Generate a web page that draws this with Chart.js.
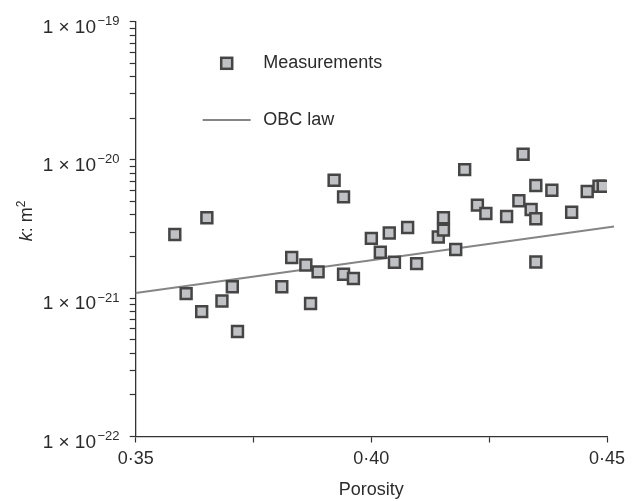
<!DOCTYPE html>
<html>
<head>
<meta charset="utf-8">
<title>Permeability vs porosity</title>
<script src="https://cdn.jsdelivr.net/npm/chart.js@4.4.1/dist/chart.umd.min.js"></script>
<style>
  html, body { margin: 0; padding: 0; background: #fff; }
  #wrap { width: 638px; height: 501px; }
</style>
</head>
<body>
<div id="wrap"><canvas id="permChart" width="638" height="501"></canvas></div>
<script>
// Measured porosity / permeability pairs (k in m²)
const porosity = [
  0.3583, 0.3607, 0.3640, 0.3651, 0.3683, 0.3705, 0.3716, 0.3810, 0.3831, 0.3861,
  0.3871, 0.3887, 0.3921, 0.3941, 0.3941, 0.3962, 0.4000, 0.4019, 0.4038, 0.4049,
  0.4077, 0.4096, 0.4142, 0.4153, 0.4153, 0.4179, 0.4198, 0.4225, 0.4243, 0.4287,
  0.4313, 0.4322, 0.4339, 0.4349, 0.4349, 0.4349, 0.4383, 0.4425, 0.4458, 0.4483,
  0.4492
];
const permeability = [
  2.89e-21, 1.08e-21, 8.0e-22, 3.82e-21, 9.56e-22, 1.21e-21, 5.75e-22, 1.21e-21, 1.97e-21, 1.74e-21,
  9.16e-22, 1.55e-21, 7.13e-21, 5.41e-21, 1.49e-21, 1.39e-21, 2.71e-21, 2.15e-21, 2.96e-21, 1.82e-21,
  3.25e-21, 1.78e-21, 2.77e-21, 3.82e-21, 3.11e-21, 2.25e-21, 8.52e-21, 4.71e-21, 4.10e-21, 3.90e-21,
  5.07e-21, 1.10e-20, 4.38e-21, 3.76e-21, 6.53e-21, 1.83e-21, 6.04e-21, 4.19e-21, 5.91e-21, 6.45e-21,
  6.45e-21
];

// OBC law curve (straight on the log axis)
const obcPorosity = [0.35, 0.4515];
const obcPermeability = [1.09e-21, 3.30e-21];

// Axis ticks
const xTickValues = [0.35, 0.375, 0.40, 0.425, 0.45];
const xTickLabels = ['0·35', '', '0·40', '', '0·45'];
const yDecades = [-22, -21, -20, -19];
const yMinorSteps = [1, 2, 3, 4, 5, 6, 7, 8, 9];

const FONT = "'Liberation Sans', Arial, Helvetica, sans-serif";
const INK = '#2b2b2b';
const AXIS = '#333333';
const MARK_FILL = '#c0c1c4';
const MARK_EDGE = '#454545';
const LINE_GREY = '#858585';

const yTickValues = [];
yDecades.forEach((d, i) => {
  if (i === yDecades.length - 1) {
    yTickValues.push(Math.pow(10, d));
    return;
  }
  yMinorSteps.forEach(m => yTickValues.push(m * Math.pow(10, d)));
});

// y labels as "1 × 10" with a raised exponent, the legend and the y title
const annotations = {
  id: 'annotations',
  afterDraw(chart) {
    const ctx = chart.ctx;
    const yScale = chart.scales.y;
    ctx.save();
    ctx.fillStyle = INK;

    yDecades.forEach(d => {
      const py = yScale.getPixelForValue(Math.pow(10, d));
      ctx.font = `19px ${FONT}`;
      ctx.textAlign = 'right';
      ctx.textBaseline = 'alphabetic';
      ctx.fillText('1 × 10', 96, py + 11);
      ctx.font = `13px ${FONT}`;
      ctx.textAlign = 'left';
      ctx.fillText('−' + Math.abs(d), 97.5, py + 3.5);
    });

    // legend
    const sq = 11;
    ctx.fillStyle = MARK_FILL;
    ctx.strokeStyle = MARK_EDGE;
    ctx.lineWidth = 2.5;
    ctx.fillRect(226.7 - sq / 2, 63.3 - sq / 2, sq, sq);
    ctx.strokeRect(226.7 - sq / 2, 63.3 - sq / 2, sq, sq);

    ctx.strokeStyle = LINE_GREY;
    ctx.lineWidth = 2;
    ctx.beginPath();
    ctx.moveTo(202.7, 120);
    ctx.lineTo(250.7, 120);
    ctx.stroke();

    ctx.fillStyle = INK;
    ctx.font = `18px ${FONT}`;
    ctx.textAlign = 'left';
    ctx.textBaseline = 'middle';
    ctx.fillText('Measurements', 263.3, 63.5);
    ctx.fillText('OBC law', 263.3, 120.5);

    // rotated y title: k: m²
    ctx.translate(31.5, 221);
    ctx.rotate(-Math.PI / 2);
    ctx.textBaseline = 'alphabetic';
    const parts = [
      { t: 'k', f: `italic 18px ${FONT}`, dy: 0 },
      { t: ': m', f: `18px ${FONT}`, dy: 0 },
      { t: '2', f: `12px ${FONT}`, dy: -7 }
    ];
    let total = 0;
    parts.forEach(p => { ctx.font = p.f; p.w = ctx.measureText(p.t).width; total += p.w; });
    let x = -total / 2;
    parts.forEach(p => {
      ctx.font = p.f;
      ctx.fillText(p.t, x, p.dy);
      x += p.w;
    });

    ctx.restore();
  }
};

const ctx = document.getElementById('permChart').getContext('2d');
new Chart(ctx, {
  type: 'scatter',
  data: {
    datasets: [
      {
        label: 'Measurements',
        data: porosity.map((p, i) => ({ x: p, y: permeability[i] })),
        pointStyle: 'rect',
        pointRadius: 7.7,
        pointHoverRadius: 7.7,
        backgroundColor: MARK_FILL,
        borderColor: MARK_EDGE,
        borderWidth: 2.5,
        order: 0
      },
      {
        label: 'OBC law',
        type: 'line',
        data: obcPorosity.map((p, i) => ({ x: p, y: obcPermeability[i] })),
        borderColor: LINE_GREY,
        borderWidth: 2,
        pointRadius: 0,
        fill: false,
        clip: false,
        order: 1
      }
    ]
  },
  options: {
    responsive: false,
    animation: false,
    layout: { padding: { left: 129.7, top: 21.7, right: 31, bottom: 0 } },
    plugins: {
      legend: { display: false },
      tooltip: { enabled: false }
    },
    scales: {
      x: {
        type: 'linear',
        min: 0.35,
        max: 0.45,
        afterBuildTicks: scale => { scale.ticks = xTickValues.map(v => ({ value: v })); },
        ticks: {
          color: INK,
          font: { family: FONT, size: 18 },
          padding: 6,
          maxRotation: 0,
          autoSkip: false,
          callback: (value, index) => xTickLabels[index]
        },
        grid: { drawOnChartArea: false, drawTicks: true, tickLength: 6, tickColor: AXIS, tickWidth: 1.2 },
        border: { display: true, color: AXIS, width: 1.3 },
        title: {
          display: true,
          text: 'Porosity',
          color: INK,
          font: { family: FONT, size: 18 },
          padding: { top: 3.3, bottom: 0 }
        }
      },
      y: {
        type: 'logarithmic',
        min: 1e-22,
        max: 1e-19,
        afterBuildTicks: scale => { scale.ticks = yTickValues.map(v => ({ value: v })); },
        ticks: { display: false },
        grid: { drawOnChartArea: false, drawTicks: true, tickLength: 6, tickColor: AXIS, tickWidth: 1.2 },
        border: { display: true, color: AXIS, width: 1.3 }
      }
    }
  },
  plugins: [annotations]
});
</script>
</body>
</html>
